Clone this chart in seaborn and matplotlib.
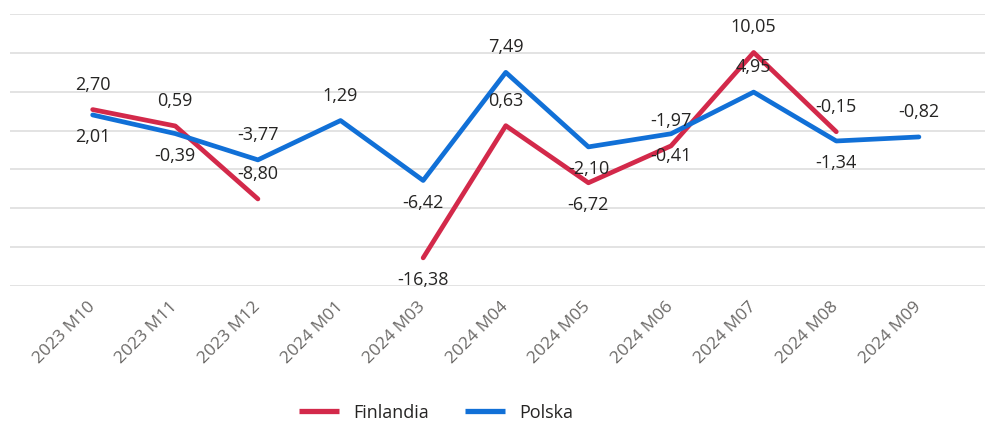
import numpy as np
import pandas as pd
import matplotlib
matplotlib.use("Agg")
import matplotlib.pyplot as plt
import seaborn as sns

months = ["2023 M10", "2023 M11", "2023 M12", "2024 M01", "2024 M03", "2024 M04",
          "2024 M05", "2024 M06", "2024 M07", "2024 M08", "2024 M09"]
finlandia = [2.70, 0.59, -8.80, np.nan, -16.38, 0.63, -6.72, -1.97, 10.05, -0.15, np.nan]
polska = [2.01, -0.39, -3.77, 1.29, -6.42, 7.49, -2.10, -0.41, 4.95, -1.34, -0.82]

# label above (+1) or below (-1) the point
side_fin = [1, 1, 1, 0, -1, 1, -1, 1, 1, 1, 0]
side_pol = [-1, -1, 1, 1, -1, 1, -1, -1, 1, -1, 1]

colors = {"Finlandia": "#D3294A", "Polska": "#1170D7"}

sns.set_style("white")
plt.rcParams["font.family"] = ["Open Sans", "DejaVu Sans"]

rows = []
for name, vals in [("Finlandia", finlandia), ("Polska", polska)]:
    s = pd.Series(vals)
    seg = s.isna().cumsum()
    for i, v in enumerate(vals):
        if not np.isnan(v):
            rows.append({"x": i, "value": v, "kraj": name, "seg": seg[i]})
df = pd.DataFrame(rows)

fig = plt.figure(figsize=(9.85, 4.22), dpi=100)
ax = fig.add_axes([0.0102, 1 - 286 / 422, 0.9898, (286 - 14) / 422])

sns.lineplot(data=df, x="x", y="value", hue="kraj", units="seg", estimator=None,
             palette=colors, linewidth=3.4, ax=ax, legend=True)

ax.set_xlim(-1.0, 10.8)
ax.set_ylim(-20, 15)
ax.set_yticks(np.arange(-20, 16, 5))
ax.set_yticklabels([])
ax.tick_params(axis="y", length=0)
ax.grid(axis="y", color="#E1E1E1", linewidth=1.3)
ax.set_axisbelow(True)
for sp in ax.spines.values():
    sp.set_visible(False)

ax.set_xticks(range(len(months)))
ax.set_xticklabels(months, rotation=45, ha="right", va="center",
                   rotation_mode="anchor", color="#6B6967", fontsize=12.5)
ax.tick_params(axis="x", length=0, pad=13)
ax.set_xlabel("")
ax.set_ylabel("")

for vals, sides in [(finlandia, side_fin), (polska, side_pol)]:
    for i, (v, sd) in enumerate(zip(vals, sides)):
        if np.isnan(v) or sd == 0:
            continue
        off = 18 if sd > 0 else -16
        ax.annotate(f"{v:.2f}".replace(".", ","), (i, v), xytext=(0, off),
                    textcoords="offset points", ha="center", va="center",
                    fontsize=13, color="#252423")

sns.move_legend(ax, "center", bbox_to_anchor=(0.443, 0.022),
                bbox_transform=fig.transFigure, ncol=2, frameon=False, title=None,
                fontsize=13, handlelength=2.2, columnspacing=2.0)
for line in ax.get_legend().get_lines():
    line.set_linewidth(3.8)
    line.set_solid_capstyle("butt")
for t in ax.get_legend().get_texts():
    t.set_color("#252423")

fig.savefig("out.png", dpi=100)
